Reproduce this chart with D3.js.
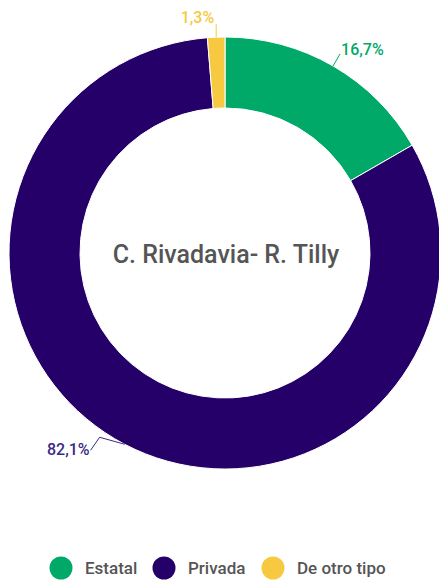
<!DOCTYPE html>
<html>
<head>
<meta charset="utf-8">
<script src="https://cdn.jsdelivr.net/npm/d3@7"></script>
<style>
  body { margin: 0; background: #fff; }
  svg { display: block; }
</style>
</head>
<body>
<div id="chart"></div>
<script>
// data
var categories = ["Estatal", "Privada", "De otro tipo"];
var values = [16.7, 82.1, 1.3];
var labels = ["16,7%", "82,1%", "1,3%"];
var colors = ["#00a968", "#240068", "#f6c940"];
var labelColors = ["#00a968", "#3b2a86", "#f6c940"];
var title = "C. Rivadavia- R. Tilly";

var width = 439, height = 580;
var cx = 225, cy = 253, outerR = 216, innerR = 145;

var svg = d3.select("#chart")
  .append("svg")
  .attr("width", width)
  .attr("height", height);

var data = categories.map(function(c, i) { return {name: c, value: values[i], label: labels[i], i: i}; });

var pie = d3.pie()
  .sort(null)
  .value(function(d) { return d.value; });

var arc = d3.arc()
  .innerRadius(innerR)
  .outerRadius(outerR);

var g = svg.append("g")
  .attr("transform", "translate(" + cx + "," + cy + ")");

var arcs = pie(data);

g.selectAll("path.slice")
  .data(arcs)
  .enter().append("path")
  .attr("class", "slice")
  .attr("d", arc)
  .attr("fill", function(d) { return colors[d.data.i]; })
  .attr("stroke", "#fff")
  .attr("stroke-width", 1);

// leader lines + labels
function pt(a, r) { return [r * Math.sin(a), -r * Math.cos(a)]; }

arcs.forEach(function(d) {
  var mid = (d.startAngle + d.endAngle) / 2;
  var p0 = pt(mid, outerR);
  var pts, tx, ty, anchor;
  if (d.data.i === 0) {
    var p1 = pt(mid, outerR + 14);
    pts = [p0, p1];
    tx = p1[0] + 1; ty = p1[1] + 1; anchor = "start";
  } else if (d.data.i === 2) {
    var p1 = [p0[0], p0[1] - 13];
    pts = [p0, p1];
    tx = p1[0] - 2; ty = p1[1] - 1; anchor = "end";
  } else {
    var p1 = [p0[0] - 25, p0[1] - 7];
    var p2 = [p1[0] - 9, p1[1] + 13];
    pts = [p0, p1, p2];
    tx = p2[0] - 1; ty = p2[1] + 5; anchor = "end";
  }
  g.append("polyline")
    .attr("points", pts.map(function(p) { return p.join(","); }).join(" "))
    .attr("fill", "none")
    .attr("stroke", labelColors[d.data.i])
    .attr("stroke-width", 1);
  g.append("text")
    .attr("x", tx)
    .attr("y", ty)
    .attr("text-anchor", anchor)
    .style("font-family", "Roboto, sans-serif")
    .style("font-size", "16px")
    .style("font-weight", "500")
    .attr("fill", labelColors[d.data.i])
    .text(d.data.label);
});

// center title
svg.append("text")
  .attr("x", cx + 1)
  .attr("y", cy + 10)
  .attr("text-anchor", "middle")
  .style("font-family", "Roboto, sans-serif")
  .style("font-size", "25px")
  .style("font-weight", "500")
  .attr("fill", "#555")
  .text(title);

// legend
var legendX = [61, 164, 273];
var legend = svg.append("g").attr("class", "legend");
data.forEach(function(d, i) {
  legend.append("circle")
    .attr("cx", legendX[i])
    .attr("cy", 568)
    .attr("r", 11.5)
    .attr("fill", colors[i]);
  legend.append("text")
    .attr("x", legendX[i] + 24)
    .attr("y", 574)
    .style("font-family", "Roboto, sans-serif")
    .style("font-size", "17px")
    .style("font-weight", "500")
    .attr("fill", "#555")
    .text(d.name);
});
</script>
</body>
</html>
